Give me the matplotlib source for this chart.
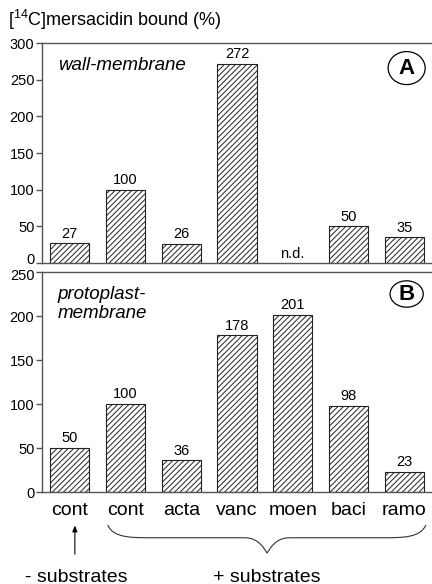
import matplotlib
matplotlib.use("Agg")
import matplotlib.pyplot as plt
from matplotlib.patches import Ellipse, PathPatch
from matplotlib.path import Path
from matplotlib.transforms import blended_transform_factory, ScaledTranslation
import numpy as np

categories = ["cont", "cont", "acta", "vanc", "moen", "baci", "ramo"]
wall_membrane = [27, 100, 26, 272, None, 50, 35]   # None = not determined
protoplast_membrane = [50, 100, 36, 178, 201, 98, 23]
wall_ticks = [0, 50, 100, 150, 200, 250, 300]
proto_ticks = [0, 50, 100, 150, 200, 250]

plt.rcParams["font.family"] = ["Liberation Sans", "DejaVu Sans"]
plt.rcParams["mathtext.default"] = "regular"
plt.rcParams["hatch.linewidth"] = 0.7

SPINE = "#555555"
W, H = 432, 584
fig = plt.figure(figsize=(W / 100, H / 100), dpi=100)


def px_axes(left, top, right, bottom):
    return fig.add_axes([left / W, 1 - bottom / H, (right - left) / W, (bottom - top) / H])


ax_a = px_axes(42, 43, 432, 263)
ax_b = px_axes(42, 272, 432, 492)

x = np.arange(len(categories))


def style(ax, ymax, ticks):
    ax.set_xlim(-0.5, 6.5)
    ax.set_ylim(0, ymax)
    ax.set_yticks(ticks)
    ax.spines["right"].set_visible(False)
    for s in ("left", "top", "bottom"):
        ax.spines[s].set_color(SPINE)
        ax.spines[s].set_linewidth(1.0)
    ax.tick_params(axis="y", direction="out", length=4, width=1, color=SPINE,
                   labelsize=10.5, pad=1.5)
    ax.tick_params(axis="x", length=0)
    ax.set_xticks([])


def bars(ax, values):
    for xi, v in zip(x, values):
        if v is None:
            ax.text(xi, 3, "n.d.", ha="center", va="bottom", fontsize=10.5)
            continue
        ax.bar(xi, v, width=0.7, color="white", edgecolor="#222222",
               linewidth=0.8, hatch="//////")
        ax.text(xi, v + ax.get_ylim()[1] * 0.012, f"{v}", ha="center",
                va="bottom", fontsize=10.5)


style(ax_a, 300, wall_ticks)
style(ax_b, 250, proto_ticks)
bars(ax_a, wall_membrane)
bars(ax_b, protoplast_membrane)

# the two panels meet closely: nudge the adjoining "0" and "250" labels apart
fig.canvas.draw()
zero_lbl = ax_a.get_yticklabels()[0]
zero_lbl.set_transform(zero_lbl.get_transform()
                       + ScaledTranslation(0, 5 / 100, fig.dpi_scale_trans))
top_lbl = ax_b.get_yticklabels()[-1]
top_lbl.set_transform(top_lbl.get_transform()
                      + ScaledTranslation(0, -2.5 / 100, fig.dpi_scale_trans))

ax_b.set_xticks(x)
ax_b.set_xticklabels(categories, fontsize=14)
ax_b.tick_params(axis="x", pad=7)

# panel names
ax_a.text(0.04, 0.9, "wall-membrane", transform=ax_a.transAxes, style="italic",
          fontsize=13.5, va="center", ha="left")
ax_b.text(0.04, 0.855, "protoplast-\nmembrane", transform=ax_b.transAxes,
          style="italic", fontsize=13.5, va="center", ha="left", linespacing=1.15)

# circled panel letters
for ax, letter, yc, ew, eh in ((ax_a, "A", 0.886, 0.095, 0.15), (ax_b, "B", 0.9, 0.085, 0.12)):
    ax.add_patch(Ellipse((0.935, yc), ew, eh, transform=ax.transAxes,
                         facecolor="white", edgecolor="black", lw=0.9, clip_on=False))
    ax.text(0.935, yc, letter, transform=ax.transAxes, ha="center", va="center",
            fontsize=16, fontweight="bold")

# y-axis title
fig.text(8 / W, 1 - 20 / H, "[$^{14}$C]mersacidin bound (%)", fontsize=13,
         ha="left", va="center")

# brace over the substrate-treated samples
tr = blended_transform_factory(ax_b.transData, ax_b.transAxes)
xl, xm, xr = 0.68, 3.54, 6.39
ye, yf, yp = -0.15, -0.208, -0.278
verts = [
    (xl, ye), (xl + 0.1, yf), (xl + 0.4, yf), (xl + 0.8, yf),
    (xm - 0.4, yf),
    (xm - 0.15, yf), (xm - 0.05, yp + 0.02), (xm, yp),
    (xm + 0.05, yp + 0.02), (xm + 0.15, yf), (xm + 0.4, yf),
    (xr - 0.8, yf),
    (xr - 0.4, yf), (xr - 0.1, yf), (xr, ye),
]
codes = [Path.MOVETO, Path.CURVE4, Path.CURVE4, Path.CURVE4,
         Path.LINETO,
         Path.CURVE4, Path.CURVE4, Path.CURVE4,
         Path.CURVE4, Path.CURVE4, Path.CURVE4,
         Path.LINETO,
         Path.CURVE4, Path.CURVE4, Path.CURVE4]
ax_b.add_patch(PathPatch(Path(verts, codes), transform=tr, facecolor="none",
                         edgecolor="#333333", lw=0.8, clip_on=False))

# arrow pointing at the untreated control
ax_b.annotate("", xy=(0.09, -0.14), xycoords=tr, xytext=(0.09, -0.295),
              textcoords=tr,
              arrowprops=dict(arrowstyle="-|>,head_length=0.35,head_width=0.15",
                              color="black", lw=0.8))

fig.text(25 / W, 1 - 577 / H, "- substrates", fontsize=14, ha="left", va="center")
fig.text(213 / W, 1 - 577 / H, "+ substrates", fontsize=14, ha="left", va="center")

fig.savefig("out.png", dpi=100)
